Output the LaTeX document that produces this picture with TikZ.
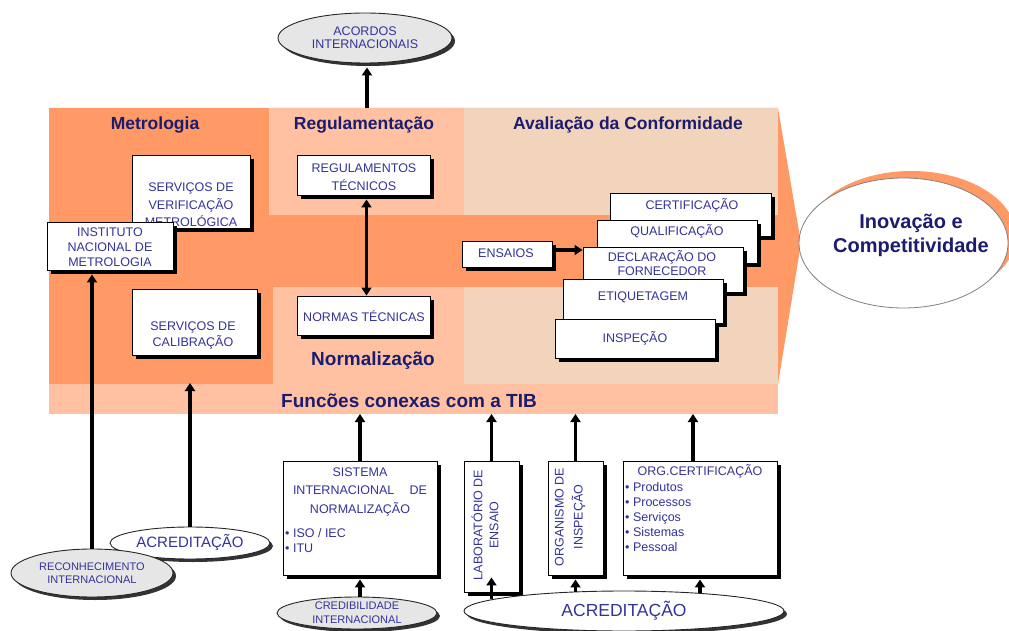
\documentclass[tikz,border=0pt]{standalone}
\usepackage{fontspec}
\setmainfont{Liberation Sans}
\usetikzlibrary{shadows,arrows.meta,calc,shapes.geometric}

\definecolor{orangeD}{HTML}{FF9966}
\definecolor{orangeL}{HTML}{FFC1A2}
\definecolor{beige}{HTML}{F2D3BC}
\definecolor{navy}{HTML}{1C1C6E}
\definecolor{boxtxt}{HTML}{333399}
\definecolor{ellgray}{HTML}{E6E6E6}

\tikzset{
  box/.style={draw=black, line width=0.9pt, fill=white, inner sep=0pt,
    drop shadow={shadow xshift=4pt, shadow yshift=-4pt, fill=black, opacity=1}},
  stxt/.style={text=boxtxt, font=\fontsize{12.5}{16}\selectfont, align=center, inner sep=0pt},
  ttl/.style={text=navy, font=\bfseries\fontsize{17.5}{20}\selectfont, inner sep=0pt},
  bigttl/.style={ttl, font=\bfseries\fontsize{19}{22}\selectfont},
  ell/.style={ellipse, draw=black!85, line width=0.9pt, fill=ellgray, inner sep=0pt,
    text=boxtxt, align=center,
    drop shadow={shadow xshift=3pt, shadow yshift=-3pt, fill=black!80, opacity=1}},
  arr/.style={line width=3.2pt, -{Triangle[length=8pt,width=10pt]}},
  darr/.style={line width=3.2pt, {Triangle[length=8pt,width=10pt]}-{Triangle[length=8pt,width=10pt]}},
}

\begin{document}
\begin{tikzpicture}[x=1pt,y=-1pt]
\useasboundingbox (0,0) rectangle (1009,631);

% big arrow-shaped field and its sub-areas
\fill[orangeD] (49,108) -- (778,108) -- (801,243) -- (778,384) -- (49,384) -- cycle;
\fill[orangeL] (269,108) rectangle (464,215);
\fill[orangeL] (273,287) rectangle (464,384);
\fill[beige] (464,108) rectangle (778,215);
\fill[beige] (464,287) rectangle (778,384);
\fill[orangeL] (49,384) rectangle (778,414);

\coordinate (tibtop) at (0,383);
\coordinate (tibbot) at (0,414);
\coordinate (regtop) at (367,108);

% section titles
\node[ttl] (tmet) at (155,125) {Metrologia};
\node[ttl] (treg) at (364,125) {Regulamentação};
\node[ttl] (taval) at (628,125) {Avaliação da Conformidade};
\node[bigttl] (tnorm) at (373,361) {Normalização};
\node[bigttl] (ttib) at (409,401) {Funcões conexas com a TIB};

% metrology
\node[box, minimum width=118pt, minimum height=73pt] (verif) at (191,191.5) {};
\node[stxt, font=\fontsize{12.5}{17.5}\selectfont] (veriftxt) at (191,205) {SERVIÇOS DE\\VERIFICAÇÃO\\METROLÓGICA};
\node[box, minimum width=126pt, minimum height=48pt] (inst) at (110,246) {};
\node[stxt, font=\fontsize{12.5}{15}\selectfont] (insttxt) at (110,247) {INSTITUTO\\NACIONAL DE\\METROLOGIA};
\node[box, minimum width=125pt, minimum height=66pt] (calib) at (194.5,322) {};
\node[stxt] (calibtxt) at (193,335) {SERVIÇOS DE\\CALIBRAÇÃO};

% regulation and standards
\node[box, minimum width=133pt, minimum height=40pt] (reg) at (363.5,175) {};
\node[stxt, font=\fontsize{12.5}{18}\selectfont] (regtxt) at (364,177) {REGULAMENTOS\\TÉCNICOS};
\node[box, minimum width=133pt, minimum height=39pt] (norm) at (363.5,315.5) {};
\node[stxt] (normtxt) at (364,316) {NORMAS TÉCNICAS};

% conformity assessment
\node[box, minimum width=90pt, minimum height=26pt] (ensaios) at (507,254) {};
\node[stxt] (ensaiostxt) at (506,253) {ENSAIOS};
\node[box, minimum width=161pt, minimum height=43pt] (cert) at (690.5,214.5) {};
\node[stxt] (certtxt) at (692,205) {CERTIFICAÇÃO};
\node[box, minimum width=160pt, minimum height=43pt] (qual) at (677,241.5) {};
\node[stxt] (qualtxt) at (677,231) {QUALIFICAÇÃO};
\node[box, minimum width=160pt, minimum height=45pt] (decl) at (663,269.5) {};
\node[stxt, font=\fontsize{12.5}{14}\selectfont] (decltxt) at (662,263) {DECLARAÇÃO DO\\FORNECEDOR};
\node[box, minimum width=160pt, minimum height=44pt] (etiq) at (643,301) {};
\node[stxt] (etiqtxt) at (643,297) {ETIQUETAGEM};
\node[box, minimum width=160pt, minimum height=39pt] (insp) at (635,338.5) {};
\node[stxt] (insptxt) at (635,338) {INSPEÇÃO};

% outcome
\node[ellipse, draw=black!50, line width=0.8pt, fill=white, inner sep=0pt,
  minimum width=209pt, minimum height=130pt,
  general shadow={fill=orangeD, shadow xshift=8pt, shadow yshift=7pt}] (inov) at (903.5,243) {};
\node[text=navy, font=\bfseries\fontsize{20}{24}\selectfont, align=center, inner sep=0pt] (inovtxt) at (911,235) {Inovação e\\Competitividade};

% upper agreement
\node[ell, minimum width=174pt, minimum height=50pt, font=\fontsize{12.5}{13}\selectfont] (acordos) at (365,38) {ACORDOS\\INTERNACIONAIS};

% lower supporting systems
\node[box, minimum width=154pt, minimum height=114pt] (sist) at (360,518) {};
\node[stxt, font=\fontsize{12.5}{18.5}\selectfont] (sisttxt) at (360,491.5) {SISTEMA\\\makebox[134pt][s]{INTERNACIONAL DE}\\NORMALIZAÇÃO};
\node[stxt, align=left, font=\fontsize{12.5}{15}\selectfont, anchor=west] (sistlist) at (285,540.5) {• ISO / IEC\\• ITU};

\node[box, minimum width=55pt, minimum height=131pt] (lab) at (491.5,526.5) {};
\node[stxt, rotate=90] (labtxt) at (485,525) {LABORATÓRIO DE\\ENSAIO};

\node[box, minimum width=55pt, minimum height=114pt] (org) at (575.5,518) {};
\node[stxt, rotate=90, font=\fontsize{12.5}{19}\selectfont] (orgtxt) at (570,517) {ORGANISMO DE\\INSPEÇÃO};

\node[box, minimum width=154pt, minimum height=114pt] (ocert) at (700,518) {};
\node[stxt] (ocerttxt) at (700,471) {ORG.CERTIFICAÇÃO};
\node[stxt, align=left, font=\fontsize{12.5}{15}\selectfont, anchor=west] (ocertlist) at (625,517) {• Produtos\\• Processos\\• Serviços\\• Sistemas\\• Pessoal};

\node[ell, fill=white, minimum width=160pt, minimum height=32pt, font=\fontsize{15}{17}\selectfont] (acred1) at (190,543) {ACREDITAÇÃO};
\node[ell, minimum width=162pt, minimum height=48pt, font=\fontsize{11}{13}\selectfont] (recon) at (92,573) {RECONHECIMENTO\\INTERNACIONAL};
\node[ell, minimum width=160pt, minimum height=32pt, font=\fontsize{11}{14}\selectfont] (cred) at (357,613) {CREDIBILIDADE\\INTERNACIONAL};
\node[ell, fill=white, minimum width=320pt, minimum height=40pt, font=\fontsize{17.5}{20}\selectfont] (acred2) at (624,611) {ACREDITAÇÃO};

% connectors
\draw[arr] (regtop) -- ($(regtop |- acordos.south)+(0,4)$);
\draw[darr] ($(reg.south)+(3,4)$) -- ($(norm.north)+(3,0)$);
\draw[arr] ($(ensaios.east)+(0,-4)$) -- ($(ensaios.east -| decl.west)+(0,-4)$);
\draw[arr] (recon.north) -- ($(recon.north |- inst.south)+(0,4)$);
\draw[arr] (acred1.north) -- (acred1.north |- tibtop);
\draw[arr] (sist.north) -- (sist.north |- tibbot);
\draw[arr] (lab.north) -- (lab.north |- tibbot);
\draw[arr] (org.north) -- (org.north |- tibbot);
\draw[arr] ($(ocert.north)+(-7,0)$) -- ($(ocert.north |- tibbot)+(-7,0)$);
\draw[arr] (cred.north -| sist.south) -- ($(sist.south)+(0,4)$);
\draw[arr] (acred2.175 -| lab.south) -- ($(lab.south)+(0,-15)$);
\draw[arr] (acred2.159 -| org.south) -- ($(org.south)+(0,4)$);
\draw[arr] (acred2.13 -| ocert.south) -- ($(ocert.south)+(0,4)$);
\end{tikzpicture}
\end{document}
